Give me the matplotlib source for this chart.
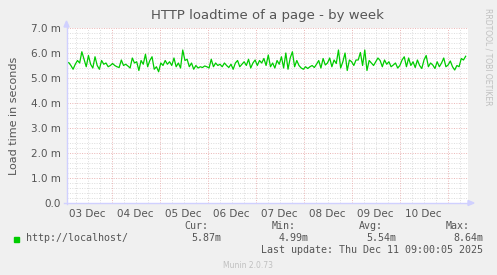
import datetime as dt
import numpy as np
import matplotlib
matplotlib.use("Agg")
import matplotlib.pyplot as plt
import matplotlib.dates as mdates

# load time in milliseconds (roughly 1.1 h apart)
load_ms = [
    5.6, 5.62, 5.5, 5.35, 5.55, 5.7, 5.6, 6.05, 5.75, 5.45, 5.9, 5.55, 5.4, 5.85, 5.5, 5.35,
    5.7, 5.55, 5.6, 5.45, 5.5, 5.58, 5.5, 5.45, 5.42, 5.72, 5.5, 5.55, 5.48, 5.4, 5.8, 5.6,
    5.65, 5.3, 5.7, 5.55, 5.95, 5.45, 5.7, 5.85, 5.35,
    5.45, 5.25, 5.6, 5.5, 5.7, 5.55, 5.65, 5.5, 5.8, 5.45, 5.6, 5.4, 6.12, 5.7, 5.75, 5.45,
    5.6, 5.35, 5.5, 5.4, 5.45, 5.42, 5.48, 5.45, 5.4, 5.75, 5.45, 5.6, 5.5, 5.55, 5.45, 5.6,
    5.5, 5.42, 5.55, 5.35, 5.6, 5.7, 5.45, 5.55, 5.65, 5.5, 5.75, 5.4, 5.6, 5.72,
    5.5, 5.7, 5.6, 5.78, 5.5, 5.92, 5.45, 5.6, 5.4, 5.7, 5.55, 5.85, 5.4, 6.0, 5.35, 5.8,
    6.05, 5.45, 5.7, 5.5, 5.4, 5.35, 5.45, 5.38, 5.45, 5.5, 5.42, 5.55, 5.7, 5.4, 5.78, 5.52,
    5.6, 5.8, 5.45, 5.72, 5.58, 6.12, 5.4, 5.65, 6.0, 5.3, 5.72, 5.65, 5.5, 5.72,
    5.72, 6.02, 5.5, 6.12, 5.3, 5.7, 5.6, 5.5, 5.65, 5.8, 5.7, 5.45, 5.72, 5.55, 5.65, 5.45,
    5.52, 5.6, 5.4, 5.5, 5.72, 5.85, 5.45, 5.8, 5.5, 5.65, 5.42, 5.72, 5.5, 5.38, 5.72, 5.9,
    5.45, 5.6, 5.52, 5.38, 5.65, 5.45, 5.6, 5.8, 5.45, 5.52, 5.68, 5.45, 5.32, 5.5, 5.45, 5.78,
    5.72, 5.87,
]
day_labels = ["03 Dec", "04 Dec", "05 Dec", "06 Dec", "07 Dec", "08 Dec", "09 Dec", "10 Dec"]
y_labels = ["0.0", "1.0 m", "2.0 m", "3.0 m", "4.0 m", "5.0 m", "6.0 m", "7.0 m"]
legend_name = "http://localhost/"
cur, vmin, avg, vmax = "5.87m", "4.99m", "5.54m", "8.64m"
last_update = "Last update: Thu Dec 11 09:00:05 2025"

t0 = dt.datetime(2025, 12, 3, 1, 30)
t1 = dt.datetime(2025, 12, 11, 9, 0)
x_end = dt.datetime(2025, 12, 11, 10, 10)
step = (t1 - t0) / (len(load_ms) - 1)
times = [t0 + i * step for i in range(len(load_ms))]

W, H = 497, 275
fig = plt.figure(figsize=(W / 100, H / 100), dpi=100, facecolor="#f0f0f0")
ax = fig.add_axes([66.5 / W, (H - 203) / H, (468 - 66.5) / W, (203 - 28) / H])
ax.set_facecolor("white")

grey = "#555555"
red_grid = "#eab4b4"
minor_grid = "#dcdcdc"

x0n, x1n = mdates.date2num(t0), mdates.date2num(x_end)
ax.set_xlim(x0n, x1n)
ax.set_ylim(0, 7.0)

# minor grid: every 6 hours / 0.2 ms
for k in range(0, 40):
    xv = mdates.date2num(dt.datetime(2025, 12, 3) + dt.timedelta(hours=6 * k))
    if x0n < xv < x1n and k % 4 != 0:
        ax.axvline(xv, color=minor_grid, lw=0.7, ls=(0, (1, 1.5)), zorder=1)
for yv in np.arange(0.2, 7.0, 0.2):
    if abs(yv - round(yv)) > 1e-6:
        ax.axhline(yv, color=minor_grid, lw=0.7, ls=(0, (1, 1.5)), zorder=1)
# major grid: midnight / 1 ms
for d in range(1, 9):
    xv = mdates.date2num(dt.datetime(2025, 12, 3) + dt.timedelta(days=d))
    ax.axvline(xv, color=red_grid, lw=0.7, ls=(0, (1, 1.5)), zorder=2)
for yv in range(1, 8):
    ax.axhline(yv, color=red_grid, lw=0.7, ls=(0, (1, 1.5)), zorder=2)

ax.plot(times, load_ms, color="#00cc00", lw=0.9, zorder=3)

for s in ax.spines.values():
    s.set_visible(False)
ax.tick_params(length=0, labelsize=7.5, labelcolor=grey, pad=4)
ax.set_yticks(range(8))
ax.set_yticklabels(y_labels)
noon = [mdates.date2num(dt.datetime(2025, 12, 3 + i, 12)) for i in range(len(day_labels))]
ax.set_xticks(noon)
ax.set_xticklabels(day_labels)
ax.set_ylabel("Load time in seconds", fontsize=8, color=grey, labelpad=9)

# axis lines with arrows, munin style
axc = "#d0d0ff"
fig.add_artist(plt.Line2D([66.5 / W, 66.5 / W], [(H - 204) / H, (H - 25) / H], color=axc, lw=1.0))
fig.add_artist(plt.Line2D([64 / W, 469 / W], [(H - 203) / H, (H - 203) / H], color=axc, lw=1.0))
fig.add_artist(plt.Polygon([[64 / W, (H - 27) / H], [69 / W, (H - 27) / H], [66.5 / W, (H - 21) / H]],
                           closed=True, color=axc, transform=fig.transFigure))
fig.add_artist(plt.Polygon([[468 / W, (H - 200.5) / H], [468 / W, (H - 205.5) / H], [474 / W, (H - 203) / H]],
                           closed=True, color=axc, transform=fig.transFigure))

fig.text(267 / W, 1 - 19 / H, "HTTP loadtime of a page - by week", ha="center", va="baseline",
         fontsize=9.5, color=grey)
fig.text(488 / W, 1 - 8 / H, "RRDTOOL / TOBI OETIKER", rotation=270, ha="center", va="top",
         fontsize=5.5, color="#c0c0c0")

mono = "DejaVu Sans Mono"
fs = 7.2
fig.add_artist(plt.Rectangle((14 / W, 1 - 241.5 / H), 5 / W, 5 / H, color="#00cc00",
                             transform=fig.transFigure))
fig.text(26 / W, 1 - 241 / H, legend_name, family=mono, fontsize=fs, color=grey)
fig.text(208 / W, 1 - 229 / H, "Cur:", family=mono, fontsize=fs, color=grey, ha="right")
fig.text(221 / W, 1 - 241 / H, cur, family=mono, fontsize=fs, color=grey, ha="right")
fig.text(296 / W, 1 - 229 / H, "Min:", family=mono, fontsize=fs, color=grey, ha="right")
fig.text(309 / W, 1 - 241 / H, vmin, family=mono, fontsize=fs, color=grey, ha="right")
fig.text(383 / W, 1 - 229 / H, "Avg:", family=mono, fontsize=fs, color=grey, ha="right")
fig.text(396 / W, 1 - 241 / H, avg, family=mono, fontsize=fs, color=grey, ha="right")
fig.text(470 / W, 1 - 229 / H, "Max:", family=mono, fontsize=fs, color=grey, ha="right")
fig.text(483 / W, 1 - 241 / H, vmax, family=mono, fontsize=fs, color=grey, ha="right")
fig.text(483 / W, 1 - 253 / H, last_update, family=mono, fontsize=fs, color=grey, ha="right")
fig.text(248 / W, 1 - 268 / H, "Munin 2.0.73", fontsize=5.5, color="#c0c0c0", ha="center")

fig.savefig("out.png", dpi=100, facecolor=fig.get_facecolor())
